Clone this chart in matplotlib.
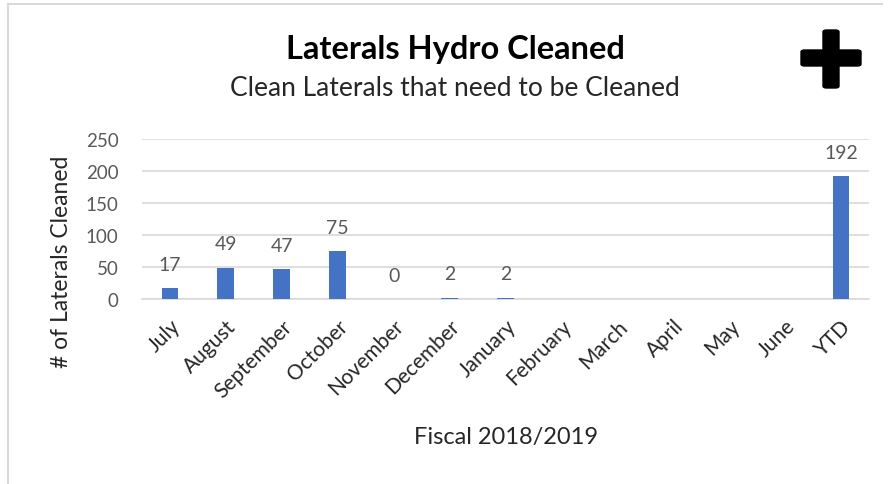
import numpy as np
import matplotlib.pyplot as plt
from matplotlib.patches import FancyBboxPatch
from matplotlib.lines import Line2D

plt.rcParams['font.family'] = ['Lato', 'DejaVu Sans']

# Data
months = ["July", "August", "September", "October", "November", "December",
          "January", "February", "March", "April", "May", "June", "YTD"]
cleaned = [17, 49, 47, 75, 0, 2, 2, np.nan, np.nan, np.nan, np.nan, np.nan, 192]
y_ticks = [0, 50, 100, 150, 200, 250]

W, H = 891, 485
fig = plt.figure(figsize=(W / 100, H / 100), dpi=100)
ax = fig.add_axes([142 / W, (H - 300) / H, 727 / W, 160 / H])

x = np.arange(len(months))
ax.bar(x, np.nan_to_num(cleaned), width=0.3, color="#4472C4", zorder=3)

for xi, v in zip(x, cleaned):
    if np.isnan(v):
        continue
    ax.annotate(f"{int(v)}", (xi, v), xytext=(0, 11), textcoords="offset points",
                ha="center", va="bottom", fontsize=14, color="#595959")

ax.set_xlim(-0.5, len(months) - 0.5)
ax.set_ylim(0, 250)
ax.set_yticks(y_ticks)
ax.yaxis.grid(True, color="#D9D9D9", linewidth=1.2, zorder=0)
ax.set_axisbelow(True)
for s in ["top", "right", "left"]:
    ax.spines[s].set_visible(False)
ax.spines["bottom"].set_color("#D9D9D9")
ax.spines["bottom"].set_linewidth(1.2)
ax.tick_params(axis="both", length=0)
ax.tick_params(axis="y", labelsize=13.5, labelcolor="#595959", pad=17)
ax.set_xticks(x)
ax.set_xticklabels(months, rotation=45, ha="right", rotation_mode="anchor",
                   fontsize=15, color="#262626")
ax.tick_params(axis="x", pad=12)

# Titles and axis labels
fig.text(455 / W, 1 - 50 / H, "Laterals Hydro Cleaned", ha="center", va="center",
         fontsize=23.5, fontweight="bold", color="black")
fig.text(455 / W, 1 - 89 / H, "Clean Laterals that need to be Cleaned",
         ha="center", va="center", fontsize=19, color="#262626")
fig.text(62 / W, 1 - 262 / H, "# of Laterals Cleaned", rotation=90,
         ha="center", va="center", fontsize=16.5, color="#262626")
fig.text(506 / W, 1 - 438 / H, "Fiscal 2018/2019", ha="center", va="center",
         fontsize=17, color="#262626")

# Plus icon
for bx, by, bw, bh in [(801, 51, 60, 16), (823, 31, 16, 58)]:
    fig.patches.append(FancyBboxPatch(
        (bx / W, 1 - (by + bh) / H), bw / W, bh / H,
        boxstyle="round,pad=0,rounding_size=0.004",
        transform=fig.transFigure, facecolor="black", edgecolor="black"))

# Frame lines on top and left
fig.add_artist(Line2D([8 / W, 882 / W], [1 - 5 / H, 1 - 5 / H], color="#D9D9D9",
                      linewidth=1.5, transform=fig.transFigure))
fig.add_artist(Line2D([8 / W, 8 / W], [1 - 5 / H, 0], color="#D9D9D9",
                      linewidth=1.5, transform=fig.transFigure))

fig.savefig("out.png", dpi=100)
